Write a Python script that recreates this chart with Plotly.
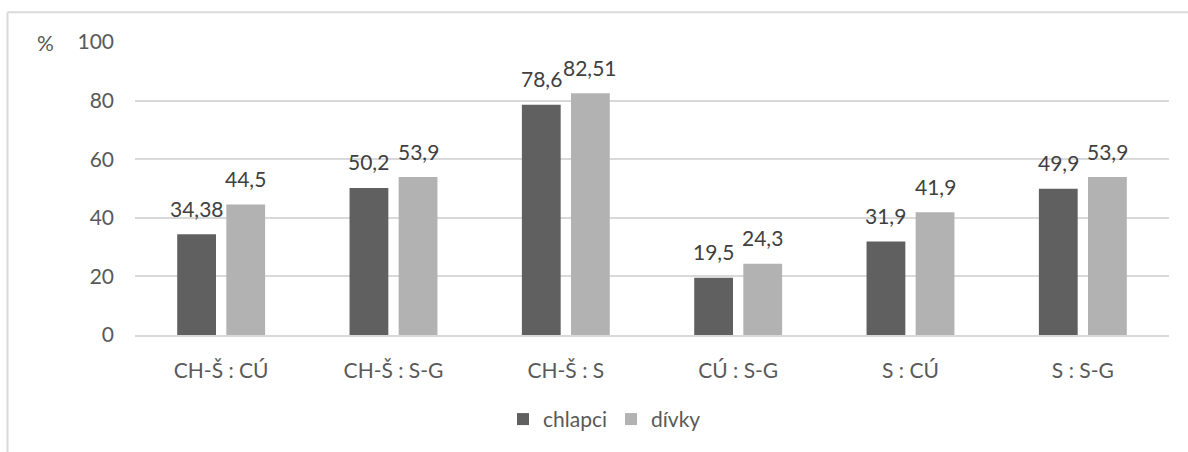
import plotly.graph_objects as go

# Comparison pairs and percentages per group
categories = ["CH-Š : CÚ", "CH-Š : S-G", "CH-Š : S", "CÚ : S-G", "S : CÚ", "S : S-G"]
chlapci = [34.38, 50.2, 78.6, 19.5, 31.9, 49.9]
divky = [44.5, 53.9, 82.51, 24.3, 41.9, 53.9]
y_ticks = [0, 20, 40, 60, 80, 100]

FONT = "Lato"
TICK_COLOR = "#595959"
LABEL_COLOR = "#404040"
GRID = "#d9d9d9"

L, R, T, B = 135, 19, 42, 115
W, H = 1188, 452
pw, ph = W - L - R, H - T - B

BARGAP, GROUPGAP = 0.43, 0.21
# horizontal distance (px) from a category centre to the centre of each bar
slot = (1 - BARGAP) * pw / len(categories) / 2
offsets = [-slot / 2, slot / 2]


def fmt(v):
    return f"{v}".replace(".", ",")


fig = go.Figure()
fig.add_trace(go.Bar(
    name="chlapci", x=categories, y=chlapci,
    marker=dict(color="#606060", line=dict(width=0)),
))
fig.add_trace(go.Bar(
    name="dívky", x=categories, y=divky,
    marker=dict(color="#b2b2b2", line=dict(width=0)),
))

# value labels above each bar
annotations = []
for series, dx in zip([chlapci, divky], offsets):
    for cat, v in zip(categories, series):
        annotations.append(dict(
            x=cat, y=v, xref="x", yref="y", text=fmt(v),
            showarrow=False, xanchor="center", yanchor="middle",
            xshift=dx, yshift=26,
            font=dict(family=FONT, size=21, color=LABEL_COLOR),
        ))
annotations.append(dict(
    text="%", xref="paper", yref="y", x=(45 - L) / pw, y=100,
    showarrow=False, xanchor="center", yanchor="middle",
    font=dict(family=FONT, size=21, color=TICK_COLOR),
))

fig.update_layout(
    width=W, height=H,
    margin=dict(l=L, r=R, t=T, b=B),
    paper_bgcolor="white", plot_bgcolor="white",
    barmode="group", bargap=BARGAP, bargroupgap=GROUPGAP,
    font=dict(family=FONT, size=21, color=TICK_COLOR),
    showlegend=True,
    legend=dict(
        orientation="h", x=(611 - L) / pw, xanchor="center",
        y=(337 - 422) / ph, yanchor="middle",
        font=dict(family=FONT, size=21, color=TICK_COLOR),
        itemwidth=30, traceorder="normal", entrywidth=63,
    ),
    xaxis=dict(
        showgrid=False, showline=True, linecolor=GRID, linewidth=2,
        ticks="", tickfont=dict(family=FONT, size=21, color=TICK_COLOR),
        ticklabelstandoff=16,
    ),
    yaxis=dict(
        range=[0, 100], tickvals=y_ticks, ticktext=[str(t) for t in y_ticks],
        showgrid=True, gridcolor=GRID, gridwidth=2, zeroline=False,
        showline=False, ticks="",
        tickfont=dict(family=FONT, size=21, color=TICK_COLOR),
        ticklabelstandoff=20,
    ),
    annotations=annotations,
    shapes=[
        # chart frame: top and left edges
        dict(type="line", xref="paper", yref="paper",
             x0=(7.5 - L) / pw, x1=(W + 5 - L) / pw,
             y0=1 + (T - 12) / ph, y1=1 + (T - 12) / ph,
             line=dict(color=GRID, width=2)),
        dict(type="line", xref="paper", yref="paper",
             x0=(7.5 - L) / pw, x1=(7.5 - L) / pw,
             y0=1 + (T - 12) / ph, y1=-(B + 5) / ph,
             line=dict(color=GRID, width=2)),
    ],
)

fig.write_html("out.html")
